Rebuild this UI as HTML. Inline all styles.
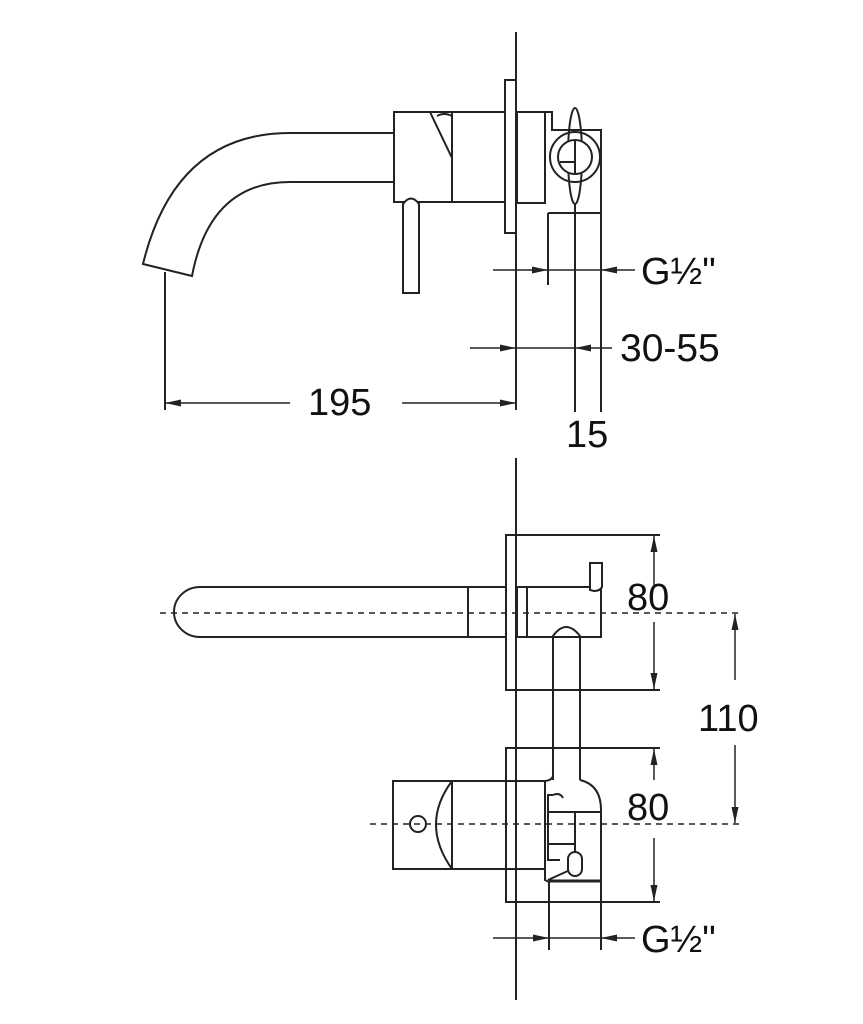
<!DOCTYPE html>
<html><head><meta charset="utf-8"><style>
html,body{margin:0;padding:0;background:#fff;}
svg{display:block;}
text{font-family:"Liberation Sans",sans-serif;fill:#111;}
</style></head><body>
<svg width="863" height="1024" viewBox="0 0 863 1024" xmlns="http://www.w3.org/2000/svg">
<defs>
<marker id="a" viewBox="0 0 16 7" refX="16" refY="3.5" markerWidth="16" markerHeight="7" orient="auto" markerUnits="userSpaceOnUse">
<path d="M0,0 L16,3.5 L0,7 z" fill="#222"/></marker>
</defs>
<g fill="none" stroke="#222" stroke-width="2">
<!-- TOP VIEW -->
<rect x="505" y="80" width="11" height="153" fill="#fff"/>
<line x1="516" y1="32" x2="516" y2="410"/>
<path d="M394,133 L290,133 Q175,133 143,264 L192,276 Q210,182 290,182 L394,182"/>
<line x1="165" y1="272" x2="165" y2="410"/>
<rect x="394" y="112" width="58" height="90"/>
<path d="M430,112 L452,158 M437,116 Q444,112 452,116"/>
<rect x="452" y="112" width="53" height="90"/>
<path d="M403,293 L403,204 Q411,193 419,204 L419,293 Z" fill="#fff"/>
<path d="M517,112 L552,112 L552,130 L601,130 L601,213 L548,213"/>
<rect x="517" y="112" width="28" height="91"/>
<ellipse cx="575" cy="156" rx="7" ry="48"/>
<circle cx="575" cy="157" r="25"/>
<circle cx="575" cy="157" r="17" fill="#fff"/>
<path d="M560,162 L575,162 M575,140 L575,174"/>
<line x1="548" y1="213" x2="548" y2="285"/>
<line x1="575" y1="204" x2="575" y2="412"/>
<line x1="601" y1="213" x2="601" y2="412"/>
<g stroke-width="1.5">
<line x1="493" y1="270" x2="548" y2="270" marker-end="url(#a)"/>
<line x1="635" y1="270" x2="601" y2="270" marker-end="url(#a)"/>
<line x1="548" y1="270" x2="601" y2="270"/>
<line x1="470" y1="348" x2="516" y2="348" marker-end="url(#a)"/>
<line x1="612" y1="348" x2="575" y2="348" marker-end="url(#a)"/>
<line x1="516" y1="348" x2="575" y2="348"/>
<line x1="290" y1="403" x2="165" y2="403" marker-end="url(#a)"/>
<line x1="402" y1="403" x2="516" y2="403" marker-end="url(#a)"/>
</g>

<!-- BOTTOM VIEW -->
<line x1="516" y1="458" x2="516" y2="1000"/>
<g stroke-width="1.5" stroke-dasharray="6,5">
<line x1="160" y1="613" x2="742" y2="613"/>
<line x1="370" y1="824" x2="742" y2="824"/>
</g>
<path d="M660,535 L506,535 L506,690 L660,690"/>
<path d="M506,587 L200,587 A26,25 0 0 0 200,637 L506,637 M468,587 L468,637"/>
<rect x="517" y="587" width="84" height="50"/>
<line x1="527" y1="587" x2="527" y2="637"/>
<path d="M590,590 L590,563 L602,563 L602,587 Q600,591 594,591 Z" fill="#fff"/>
<path d="M553,780 L553,636 Q566,618 580,636 L580,780"/>
<path d="M660,748 L506,748 L506,902 L660,902"/>
<rect x="393" y="781" width="113" height="88"/>
<path d="M452,781 L452,869 M452,781 Q420,824 452,869"/>
<circle cx="418" cy="824" r="8"/>
<path d="M506,781 L545,781 Q553,780 553,775 M580,780 Q601,785 601,810 L601,902 M545,781 L545,880 L549,882 L549,950 M506,869 L545,869"/>
<path d="M553,795 L548,795 L548,860 L560,860 M553,795 Q560,792 563,798 M548,812 L600,812 M575,812 L575,870 M548,844 L575,844 M548,880 L570,870"/>
<rect x="568" y="852" width="14" height="24" rx="7" fill="#fff"/>
<line x1="549" y1="881" x2="601" y2="881" stroke-width="3"/>
<line x1="601" y1="881" x2="601" y2="950"/>
<g stroke-width="1.5">
<line x1="654" y1="585" x2="654" y2="536" marker-end="url(#a)"/>
<line x1="654" y1="622" x2="654" y2="689" marker-end="url(#a)"/>
<line x1="735" y1="680" x2="735" y2="614" marker-end="url(#a)"/>
<line x1="735" y1="745" x2="735" y2="823" marker-end="url(#a)"/>
<line x1="654" y1="780" x2="654" y2="749" marker-end="url(#a)"/>
<line x1="654" y1="838" x2="654" y2="901" marker-end="url(#a)"/>
<line x1="493" y1="938" x2="549" y2="938" marker-end="url(#a)"/>
<line x1="635" y1="938" x2="601" y2="938" marker-end="url(#a)"/>
<line x1="549" y1="938" x2="601" y2="938"/>
</g>
</g>
<text x="641" y="284" font-size="38">G½"</text>
<text x="620" y="361" font-size="39">30-55</text>
<text x="308" y="415" font-size="38">195</text>
<text x="566" y="447" font-size="38">15</text>
<text x="627" y="610" font-size="38">80</text>
<text x="698" y="731" font-size="38">110</text>
<text x="627" y="820" font-size="38">80</text>
<text x="641" y="952" font-size="38">G½"</text>
</svg>
</body></html>
